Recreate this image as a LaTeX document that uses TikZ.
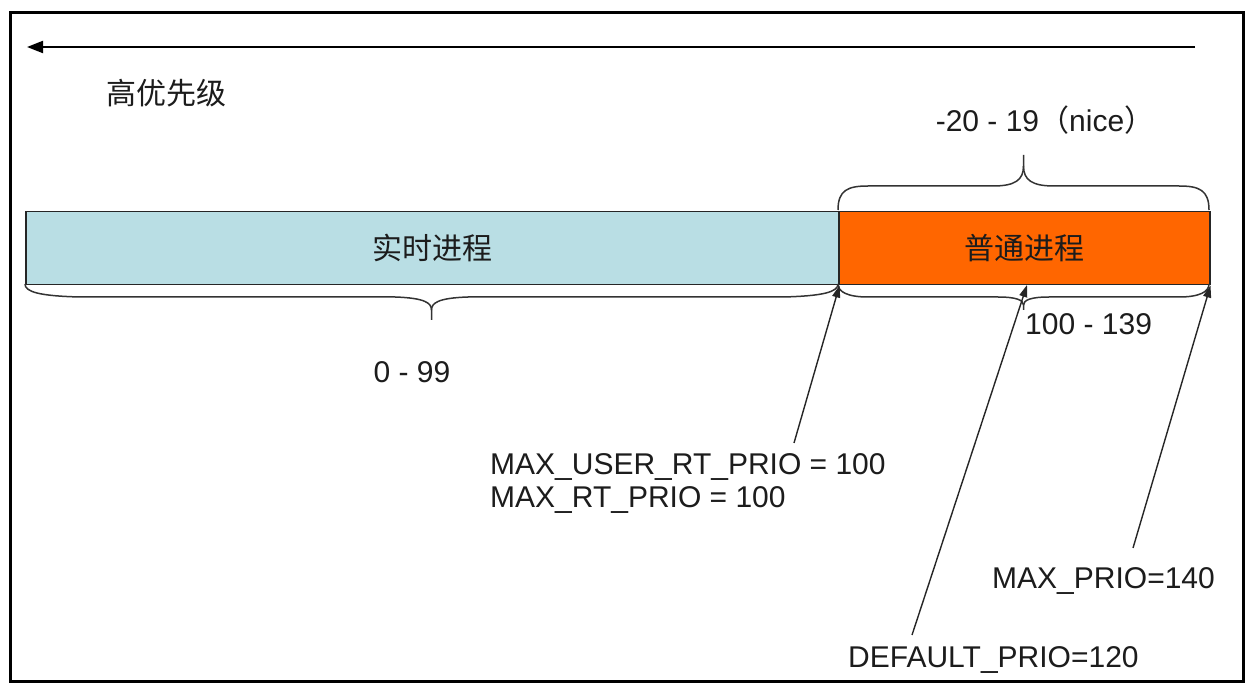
\documentclass[tikz,border=0pt]{standalone}
\usepackage{fontspec}
\setmainfont{Liberation Sans}
\newfontfamily\cjk{Noto Sans CJK SC}
\usetikzlibrary{arrows.meta}
\definecolor{rtblue}{RGB}{185,222,228}
\definecolor{normorange}{RGB}{255,102,0}
\definecolor{textcol}{RGB}{28,28,28}
\begin{document}
\begin{tikzpicture}[x=1pt,y=-1pt,
  lbl/.style={inner sep=0pt, font=\fontsize{30}{33}\selectfont, text=textcol},
  cjklbl/.style={inner sep=0pt, font=\cjk\fontsize{30}{33}\selectfont, text=textcol},
  seg/.style={draw=black!85, line width=1.5pt, inner sep=0pt, anchor=north west,
              minimum height=73pt, font=\cjk\fontsize{30}{33}\selectfont, text=textcol},
  bracestyle/.style={draw=black!80, line width=1.5pt, line join=round},
  ptr/.style={draw=black!85, line width=1.4pt, -{Triangle[length=12pt,width=8pt]}},
]
\useasboundingbox (0,0) rectangle (1255,692);
\fill[white] (0,0) rectangle (1255,692);
% frame
\draw[line width=3pt] (10,13) rectangle (1243,681);
% priority direction arrow
\coordinate (hs) at (1195,47);
\coordinate (he) at (27,47);
\draw[line width=2pt, -{Triangle[length=16pt,width=12pt]}] (hs) -- (he);
\node[cjklbl] (hp) at (166,93) {高优先级};
% bar
\node[seg, fill=rtblue, minimum width=813pt] (rt) at (25,211) {实时进程};
\node[seg, fill=normorange, minimum width=371pt] (nm) at (838,211) {普通进程};
% top brace over normal processes
\draw[bracestyle] (838,210) .. controls (838,190) and (848,186) .. (868,186) -- (993,186)
  .. controls (1015,186) and (1023.5,180) .. (1023.5,166) -- (1023.5,155);
\draw[bracestyle] (1023.5,166) .. controls (1023.5,180) and (1032,186) .. (1054,186) -- (1179,186)
  .. controls (1199,186) and (1209,190) .. (1209,210);
\node[lbl, anchor=base] (nice) at (1045,132) {-20 - 19{\cjk （}nice{\cjk ）}};
% bottom brace under real-time
\draw[bracestyle] (25,284) .. controls (25,292) and (40,296) .. (80,297) -- (395,297)
  .. controls (425,298) and (431.5,303) .. (431.5,310) -- (431.5,320);
\draw[bracestyle] (431.5,310) .. controls (431.5,303) and (438,298) .. (468,297) -- (783,297)
  .. controls (823,296) and (838,292) .. (838,284);
\node[lbl, anchor=base] (r1) at (412,382) {0 - 99};
% bottom brace under normal
\draw[bracestyle] (838,284) .. controls (838,292) and (848,297) .. (868,297) -- (998,297)
  .. controls (1016,297) and (1023.5,300) .. (1023.5,305) -- (1023.5,310);
\draw[bracestyle] (1023.5,305) .. controls (1023.5,300) and (1031,297) .. (1049,297) -- (1179,297)
  .. controls (1199,297) and (1209,292) .. (1209,284);
\node[lbl, anchor=base west] (r2) at (1025,335) {100 - 139};
% labels
\node[lbl, anchor=north west, align=left] (rtp) at (490,453.5) {MAX\_USER\_RT\_PRIO = 100\\MAX\_RT\_PRIO = 100};
\node[lbl, anchor=base west] (mp) at (992,588) {MAX\_PRIO=140};
\node[lbl, anchor=base west] (dp) at (848,667) {DEFAULT\_PRIO=120};
% pointers
\coordinate (p1) at (794,443);
\coordinate (p2) at (912,635);
\coordinate (p3) at (1133,548);
\coordinate (d2) at (1027,285);
\draw[ptr] (p1) -- (rt.south east);
\draw[ptr] (p2) -- (d2);
\draw[ptr] (p3) -- (nm.south east);
\end{tikzpicture}
\end{document}
